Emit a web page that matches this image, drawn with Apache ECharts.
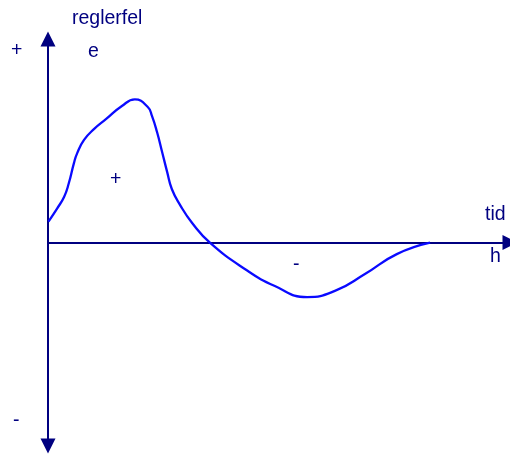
<!DOCTYPE html>
<html>
<head>
<meta charset="utf-8">
<script src="https://cdn.jsdelivr.net/npm/echarts@6/dist/echarts.min.js"></script>
<style>
html,body{margin:0;padding:0;background:#fff;}
#c{width:510px;height:458px;}
</style>
</head>
<body>
<div id="c"></div>
<script>
// time (tid, arbitrary units) and control error (reglerfel e, arbitrary units)
const tid = [0.01, 0.20, 0.35, 0.45, 0.56, 0.63, 0.78, 1.00, 1.26, 1.60, 1.88, 2.16, 2.25, 2.36, 2.47, 2.58, 2.68, 2.86, 3.12, 3.51, 4.26, 4.91, 5.61, 6.21, 6.86, 7.55, 8.27];
const reglerfel = [1.03, 1.68, 2.25, 2.91, 3.89, 4.38, 5.04, 5.58, 6.07, 6.71, 7.03, 6.66, 6.22, 5.43, 4.45, 3.46, 2.63, 1.84, 0.96, -0.02, -1.30, -2.14, -2.68, -2.38, -1.55, -0.57, -0.01];
const xRange = [0, 10];
const yRange = [-10, 10];

const axisColor = '#000080';
const textColor = '#000080';
const font = '19.5px "Liberation Sans", Arial, sans-serif';

const chart = echarts.init(document.getElementById('c'), null, {renderer: 'canvas'});
const data = tid.map((t, i) => [t, reglerfel[i]]);

function label(text, x, y) {
  return {type: 'text', x: x, y: y, style: {text: text, font: font, fill: textColor, align: 'left', verticalAlign: 'middle'}};
}

chart.setOption({
  animation: false,
  backgroundColor: '#fff',
  grid: {left: 48, right: 0, top: 39, bottom: 12},
  xAxis: {
    type: 'value', min: xRange[0], max: xRange[1],
    axisLine: {show: true, onZero: true, symbol: ['none', 'triangle'], symbolSize: [15, 15], lineStyle: {color: axisColor, width: 2}},
    axisTick: {show: false}, axisLabel: {show: false}, splitLine: {show: false}
  },
  yAxis: {
    type: 'value', min: yRange[0], max: yRange[1],
    axisLine: {show: true, onZero: false, symbol: ['triangle', 'triangle'], symbolSize: [15, 15], lineStyle: {color: axisColor, width: 2}},
    axisTick: {show: false}, axisLabel: {show: false}, splitLine: {show: false}
  },
  series: [{
    type: 'line', data: data, smooth: 0.5, showSymbol: false, clip: false,
    lineStyle: {color: '#0a0aff', width: 2.3}
  }],
  graphic: [
    label('reglerfel', 72, 19),
    label('e', 88, 52),
    label('+', 11, 51),
    label('-', 13, 421),
    label('tid', 485, 215),
    label('h', 490, 257),
    label('+', 110, 180),
    label('-', 293, 265)
  ]
});
</script>
</body>
</html>
